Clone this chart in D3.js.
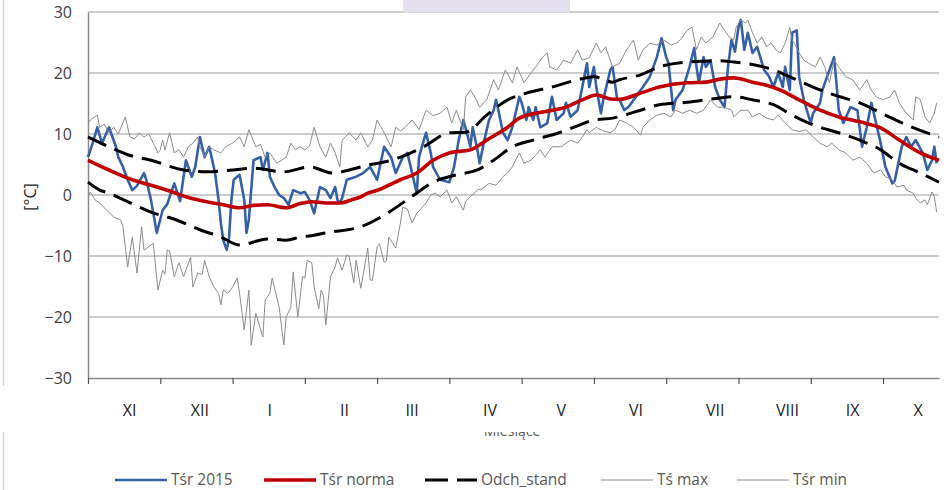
<!DOCTYPE html>
<html>
<head>
<meta charset="utf-8">
<script src="https://cdn.jsdelivr.net/npm/d3@7/dist/d3.min.js"></script>
<style>
  html, body { margin: 0; padding: 0; background: #fff; }
  svg { display: block; }
</style>
</head>
<body>
<svg id="chart" width="947" height="490"></svg>
<script>
// Hydrological year Nov 2014 – Oct 2015, x in days since 1 November.
const monthLabels = ["XI", "XII", "I", "II", "III", "IV", "V", "VI", "VII", "VIII", "IX", "X"];
const monthLabelDay = [17.8, 48, 78, 110, 139, 172.4, 203, 235, 269, 300, 328, 356];
const tickDays = [0, 31, 62, 93, 124, 155, 186, 217, 248, 279, 310, 341];
const yTicks = [-30, -20, -10, 0, 10, 20, 30];
const seriesNames = ["Tśr 2015", "Tśr norma", "Odch_stand", "Tś max", "Tśr min"];

// Daily mean temperature 2015 [day, °C]
const tsr2015 = [[0,6.2],[2,8.5],[4,11.1],[6,8.5],[9,11.1],[12,7.9],[13,6.2],[15,4.6],[17,2.5],[19,0.8],[21,1.5],[24,3.6],[25,2.5],[27,-0.8],[29.5,-6.2],[32,-2.5],[34,-1.5],[37,1.9],[39.5,-1],[42,5.7],[44.5,3.0],[46,4.6],[48,9.5],[50,6.2],[52,7.9],[54.5,3.6],[56,-0.8],[57,-4.6],[58,-7.4],[59.5,-9.0],[60.5,-7],[61.5,-0.8],[62.5,2.5],[65,3.3],[66,1.3],[67,-0.8],[68,-6.2],[69,-4],[70,0.8],[71,5.7],[74,6.2],[75,4.1],[77,6.9],[78,3.0],[80,1.3],[82,0],[84,-0.5],[86,-1.6],[88,0.8],[91,0.3],[93,0.5],[95,-0.8],[97,-3.0],[99.5,1.3],[102,0.8],[104,-0.5],[106,1.3],[107,-0.8],[108,-1.3],[109,-0.5],[111,2.5],[115,3.0],[118,3.6],[121,4.6],[124,2.5],[127,7.9],[130,6.2],[132,3.6],[135,6.2],[137,6.9],[139,3.6],[141,0.3],[142,6.2],[144,9.0],[145,10.2],[147,6.9],[148,4.6],[151,2.5],[155,2.1],[157,4.6],[159,9.0],[161,12.3],[163,9.5],[164,7.9],[165,11.1],[167,7.4],[168,5.2],[170,9.0],[172,12.3],[174,13.9],[175,15.6],[176,13.9],[178,10.2],[180,9.0],[182,11.1],[185,16.1],[186,15.1],[188,12.3],[189,14.4],[191,12.3],[192,14.4],[194,11.1],[197,11.8],[199,16.1],[201,12.3],[204,13.4],[205,15.1],[207,12.8],[210,13.9],[212,17.7],[214,21.6],[215,17.7],[217,21.0],[218,17.7],[220,13.4],[221,15.6],[224,20.5],[225,21.0],[227,15.6],[228,15.6],[230,13.9],[232,14.5],[235,16.1],[238,17.7],[241,19.4],[244,22.6],[246,25.7],[248,22.6],[249,21.6],[251,13.9],[252,15.6],[255,17.2],[258,21.0],[260,24.1],[261,21.0],[262,18.4],[264,22.6],[265,21.0],[267,22.1],[269,17.7],[271,15.6],[273,14.4],[274.5,21.0],[276,25.4],[277.5,23.5],[279,27.5],[280,28.7],[281.5,23.8],[283,26.6],[285,23.3],[287,24.3],[288,23.0],[290,20.5],[292,19.5],[294,17.7],[296,20.0],[298,17.7],[299,21.0],[301,17.2],[302,26.6],[304,27.0],[305,19.4],[307,15.6],[310,11.8],[311,13.4],[314,15.1],[315,17.2],[317,19.4],[320,22.6],[321,18.4],[322,13.9],[324,11.8],[327,14.4],[330,13.9],[332,7.9],[334,11.1],[336,15.1],[338,11.8],[340,8.5],[342,4.6],[345,1.9],[346,2.3],[349,7.9],[351,9.5],[353,7.9],[355,9.0],[358,6.9],[360,4.1],[362,5.7],[363,7.9],[364,5.2]];

// Long-term normal of the daily mean
const tsrNorma = [[0,5.7],[9,4.1],[19,2.5],[27,1.6],[37,0.4],[42,-0.3],[51,-1.1],[58,-1.6],[65,-2.1],[71,-1.7],[77,-1.6],[85,-2.1],[91,-1.4],[96,-1.1],[102,-1.3],[108,-1.3],[113,-0.8],[117,-0.3],[120,0.3],[125,0.9],[130,1.8],[134,2.5],[141,3.6],[148,5.7],[155,6.9],[164,7.4],[171,9.0],[180,11.1],[185,12.6],[195,13.6],[205,14.4],[212,15.6],[218,16.4],[225,15.7],[228,15.7],[237,16.7],[245,17.7],[257,18.4],[265,18.5],[271,19.0],[277,19.2],[285,18.5],[291,18.0],[297,17.2],[305,15.6],[314,13.9],[322,12.8],[331,12.0],[340,11.0],[348,9.0],[357,6.9],[365,5.7]];

// Normal plus / minus one standard deviation
const odchUpper = [[0,9.5],[9,7.9],[17,6.6],[27,5.7],[41,4.1],[51,3.8],[62,4.1],[71,4.4],[84,3.8],[95,4.6],[105,3.6],[112,4.1],[120,4.9],[127,5.4],[134,6.2],[144,7.9],[155,10.2],[162,10.3],[171,13.1],[180,15.6],[188,16.7],[199,17.7],[210,18.9],[217,19.4],[225,18.5],[228,18.9],[237,19.7],[245,21.0],[257,21.8],[271,22.0],[277,21.8],[285,21.4],[294,20.5],[302,19.2],[311,17.7],[320,16.4],[331,15.1],[342,13.1],[351,11.5],[365,9.5]];
const odchLower = [[0,2.1],[5,0.8],[9,0.3],[17,-1.1],[27,-2.8],[38,-4.1],[48,-5.7],[57,-6.9],[65,-8.2],[77,-7.2],[85,-7.4],[91,-6.9],[97,-6.6],[102,-6.2],[117,-5.2],[127,-3.3],[138,-0.5],[148,2.1],[158,3.3],[167,4.1],[174,5.7],[182,7.9],[191,9.0],[202,10.2],[211,11.5],[217,12.3],[225,12.6],[237,13.9],[245,14.8],[257,15.2],[271,15.9],[277,16.1],[285,15.6],[294,14.8],[302,13.1],[311,11.5],[322,10.2],[331,9.0],[340,7.4],[348,5.2],[357,3.6],[365,2.1]];

// Daily maximum
const tsMax = [[0,11.8],[1,12.3],[4,13.1],[5,11.1],[7,11.6],[9,10.2],[11,11.1],[13,10.0],[16,12.8],[18,9.5],[20,9.2],[22,10.2],[24,9.5],[26,10.0],[28,8.5],[30,6.9],[31,7.4],[32,9.0],[33,7.4],[35,10.2],[37,6.9],[39,7.4],[41,6.2],[43,7.9],[45,8.5],[47,9.5],[48,7.9],[50,6.2],[52,7.9],[54,7.4],[57,6.9],[59,7.9],[62,8.5],[65,9.5],[67,7.9],[69,10.7],[72,7.9],[74,8.3],[76,6.2],[78,6.9],[81,5.2],[83,5.7],[85,6.2],[87,8.5],[89,7.4],[91,7.9],[93,7.4],[95,8.0],[97,11.1],[99.5,7.9],[102,6.2],[104,8.5],[106,6.9],[108,4.6],[109,9.0],[112,10.2],[115,9.0],[117,10.2],[120,7.9],[122,9.0],[124,12.3],[127,10.2],[130,7.9],[132,11.1],[134,10.5],[136,11.1],[139,12.3],[142,10.7],[145,13.9],[148,13.0],[151,13.4],[154,14.4],[156,11.8],[158,13.9],[161,10.7],[162,16.1],[164,17.2],[166,16.0],[168,14.4],[171,15.6],[174,18.9],[176,17.2],[179,20.5],[182,18.4],[184,21.0],[187,18.4],[190,20.0],[192,21.0],[195,22.6],[197,23.3],[198,21.0],[201,20.5],[204,22.1],[207,21.6],[210,23.8],[212,22.1],[215,22.5],[218,24.9],[220,23.3],[222,24.3],[225,21.0],[228,21.6],[231,23.8],[234,25.4],[236,22.1],[238,23.8],[241,24.9],[244,24.6],[247,25.4],[250,24.6],[253,25.0],[255,25.9],[257,27.0],[259,27.5],[261,23.8],[263,25.9],[265,24.9],[268,25.9],[270,27.5],[271,28.2],[273,27.0],[275,25.9],[277,25.4],[278,27.5],[280,28.7],[282,28.2],[283,28.7],[285,26.6],[287,24.9],[289,25.9],[291,24.3],[293,24.9],[295,23.8],[297,23.3],[299,24.9],[301,27.5],[302,25.4],[303,24.9],[305,23.3],[307,22.1],[309,21.6],[312,21.0],[314,22.6],[316,21.0],[318,18.4],[320,22.1],[322,21.0],[325,19.4],[328,18.9],[331,17.2],[334,18.9],[336,17.2],[338,16.1],[341,15.6],[344,16.1],[346,17.2],[348,15.1],[351,13.4],[354,12.3],[355,16.1],[357,15.6],[359,12.8],[361,11.8],[363,13.4],[364,15.1]];

// Daily minimum
const tsrMin = [[0,-0.3],[1,0.5],[3,-0.8],[5,-1.3],[8,-2.5],[11,-3.6],[14,-4.1],[15,-5.2],[17,-11.8],[19,-6.9],[21,-12.8],[23,-5.2],[24,-9.0],[26,-8.5],[28,-7.9],[30,-15.6],[32,-12.3],[33,-13.0],[34,-9.0],[35,-9.2],[37,-13.4],[39,-11.1],[41,-13.4],[44,-10.2],[45,-15.1],[47,-12.8],[49,-13.0],[50,-10.7],[52,-13.4],[54,-15.1],[56,-16.1],[57,-18.0],[58,-15.6],[60,-16.1],[62,-15.1],[64,-13.6],[65,-16.1],[67,-22.1],[69,-15.6],[70,-24.6],[72,-19.4],[75,-23.3],[76,-17.2],[78,-16.1],[79,-13.6],[82,-18.4],[84,-24.6],[85,-20.0],[87,-18.4],[88,-12.6],[90,-20.0],[92,-13.4],[93,-13.6],[94,-10.7],[96,-11.1],[97,-15.1],[99,-18.6],[100,-15.6],[101,-16.5],[102,-21.3],[104,-13.4],[106,-11.8],[107,-10.3],[109,-12.3],[111,-9.8],[112,-10.0],[114,-14.4],[115,-10.7],[117,-15.3],[120,-8.7],[121,-13.9],[122,-14.0],[124,-8.5],[125,-8.0],[127,-11.0],[128,-10.8],[129,-6.9],[132,-8.7],[134,-4.6],[135,-2.0],[137,-2.3],[139,-4.6],[141,-3.0],[143,-2.2],[145,-1.3],[147,0],[149,0.3],[151,-0.3],[154,0.8],[156,-1.3],[158,-0.3],[161,-2.5],[162,-1.0],[164,-0.3],[167,0.8],[169,1.0],[172,1.9],[175,1.6],[178,3.0],[180,3.6],[182,4.6],[185,6.9],[187,5.2],[190,5.7],[194,7.4],[196,6.2],[199,7.9],[203,7.9],[207,9.0],[210,8.5],[212,9.5],[214,10.7],[215,10.2],[218,11.1],[221,10.5],[224,10.2],[226,10.7],[228,12.3],[231,11.8],[234,11.1],[237,9.8],[238,11.1],[241,12.3],[244,13.1],[247,13.4],[250,12.8],[252,13.9],[255,13.4],[258,13.9],[261,13.4],[264,13.9],[267,15.6],[270,14.4],[273,14.4],[276,13.9],[277,12.8],[280,13.9],[283,13.9],[285,12.8],[288,13.4],[291,12.6],[294,12.3],[296,13.1],[299,11.8],[302,10.7],[305,10.4],[308,10.7],[311,9.5],[314,8.5],[317,7.9],[319,8.5],[322,7.4],[325,6.9],[328,5.7],[331,6.2],[334,5.2],[337,3.6],[340,4.1],[342,3.0],[345,2.5],[347,1.3],[350,1.6],[351,0.8],[354,0.3],[355,-0.5],[357,-1.3],[359,-0.8],[360,-1.6],[362,0.5],[363,-0.3],[364,-2.8]];

const W = 947, H = 490;
const plot = { left: 88, right: 939, top: 12, bottom: 378 };
const FONT = "'Open Sans', 'Noto Sans', sans-serif";

const svg = d3.select("#chart").attr("font-family", FONT);
svg.append("rect").attr("width", W).attr("height", H).attr("fill", "#fff");

// outer frame edge on the left
svg.append("line").attr("x1", 3.5).attr("x2", 3.5).attr("y1", 0).attr("y2", H)
  .attr("stroke", "#d6d6d6").attr("stroke-width", 1.5);

const x = d3.scaleLinear().domain([0, 365]).range([plot.left, plot.right]);
const y = d3.scaleLinear().domain([-30, 30]).range([plot.bottom, plot.top]);

// horizontal gridlines
svg.append("g")
  .selectAll("line").data(yTicks.filter(v => v !== -30)).join("line")
  .attr("x1", plot.left).attr("x2", plot.right)
  .attr("y1", d => y(d)).attr("y2", d => y(d))
  .attr("stroke", "#bcbcbc").attr("stroke-width", 1.5);

// y axis
const yAxis = svg.append("g").attr("transform", `translate(${plot.left},0)`)
  .call(d3.axisLeft(y).tickValues(yTicks).tickSize(0).tickPadding(16).tickFormat(d3.format("d")));
yAxis.attr("font-family", FONT).attr("font-size", 16);
yAxis.select(".domain").attr("stroke", "#8a8a8a").attr("stroke-width", 1.5);
yAxis.selectAll("text").attr("fill", "#404040");

// x axis with ticks every 31 days
const xAxis = svg.append("g").attr("transform", `translate(0,${plot.bottom})`)
  .call(d3.axisBottom(x).tickValues(tickDays).tickSize(6).tickSizeOuter(0).tickFormat(""));
xAxis.select(".domain").attr("stroke", "#8a8a8a").attr("stroke-width", 1.5);
xAxis.selectAll(".tick line").attr("stroke", "#555").attr("stroke-width", 1.2);

// y axis title
svg.append("text")
  .attr("transform", `translate(36,197) rotate(-90)`)
  .attr("text-anchor", "middle")
  .attr("font-size", 16).attr("fill", "#262626")
  .text("[°C]");

// x axis title, mostly under the month label box
svg.append("text")
  .attr("x", 512).attr("y", 436).attr("text-anchor", "middle")
  .attr("font-size", 14).attr("fill", "#595959")
  .text("Miesiące");
svg.append("rect").attr("x", 0).attr("y", 386).attr("width", W).attr("height", 46).attr("fill", "#fff");

// month labels
svg.append("g").selectAll("text").data(monthLabels).join("text")
  .attr("x", (d, i) => x(monthLabelDay[i]))
  .attr("y", 416)
  .attr("text-anchor", "middle")
  .attr("font-size", 16).attr("fill", "#1e1e1e")
  .text(d => d);

// series
const line = d3.line().x(d => x(d[0])).y(d => y(d[1]));
const smooth = d3.line().x(d => x(d[0])).y(d => y(d[1])).curve(d3.curveMonotoneX);

const styles = {
  blue:  { stroke: "#3560a6", width: 2.6 },
  red:   { stroke: "#c00000", width: 3.6 },
  dash:  { stroke: "#000000", width: 3, dash: "20,9" },
  grey:  { stroke: "#8c8c8c", width: 1 }
};

const g = svg.append("g").attr("fill", "none").attr("stroke-linejoin", "round");
g.append("path").attr("d", line(tsr2015))
  .attr("stroke", styles.blue.stroke).attr("stroke-width", styles.blue.width);
g.append("path").attr("d", smooth(tsrNorma))
  .attr("stroke", styles.red.stroke).attr("stroke-width", styles.red.width);
[odchUpper, odchLower].forEach(s => {
  g.append("path").attr("d", smooth(s))
    .attr("stroke", styles.dash.stroke).attr("stroke-width", styles.dash.width)
    .attr("stroke-dasharray", styles.dash.dash);
});
[tsMax, tsrMin].forEach(s => {
  g.append("path").attr("d", line(s))
    .attr("stroke", styles.grey.stroke).attr("stroke-width", styles.grey.width);
});

// small tinted block at the top edge
svg.append("rect").attr("x", 403).attr("y", 0).attr("width", 167).attr("height", 12.7).attr("fill", "#e4dfec");

// legend
const legendItems = [
  { name: seriesNames[0], x: 115, s: styles.blue },
  { name: seriesNames[1], x: 264, s: styles.red },
  { name: seriesNames[2], x: 425, s: styles.dash },
  { name: seriesNames[3], x: 601, s: styles.grey },
  { name: seriesNames[4], x: 737, s: styles.grey }
];
const lg = svg.append("g");
legendItems.forEach(it => {
  lg.append("line").attr("x1", it.x).attr("x2", it.x + 52).attr("y1", 480).attr("y2", 480)
    .attr("stroke", it.s.stroke).attr("stroke-width", it.s.width)
    .attr("stroke-dasharray", it.s.dash ? "23,9" : null);
  lg.append("text").attr("x", it.x + 56).attr("y", 485)
    .attr("font-size", 15.5).attr("fill", "#595959").text(it.name);
});
</script>
</body>
</html>
